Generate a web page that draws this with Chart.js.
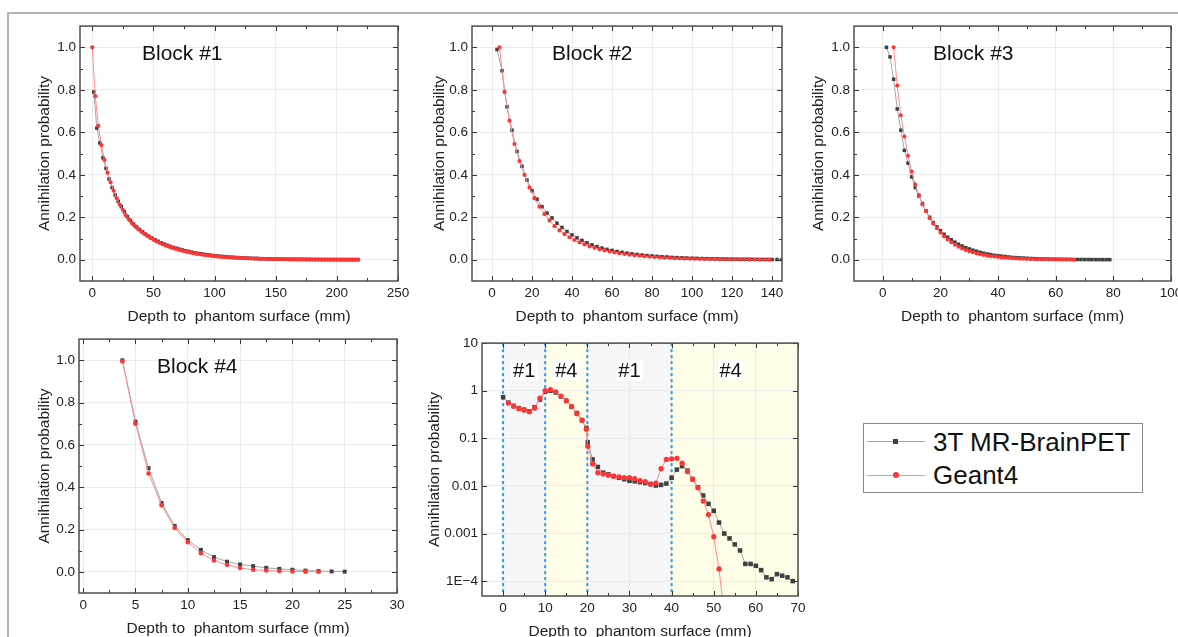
<!DOCTYPE html>
<html>
<head>
<meta charset="utf-8">
<title>Annihilation probability vs depth</title>
<script src="https://cdn.jsdelivr.net/npm/chart.js@4.4.1/dist/chart.umd.min.js"></script>
<style>
  html, body { margin: 0; padding: 0; background: #fff; width: 1178px; height: 637px; overflow: hidden; }
  body { position: relative; font-family: 'Liberation Sans', Arial, sans-serif; }
  .frame-top { position: absolute; left: 7px; top: 12px; right: 0; height: 2px; background: #b5b5b5; }
  .frame-left { position: absolute; left: 7px; top: 12px; bottom: 0; width: 2px; background: #b5b5b5; }
  canvas { position: absolute; }
  .legend { position: absolute; left: 863px; top: 423px; width: 278px; height: 68px; border: 1px solid #8a8a8a; background: #fff; }
  .legend .line { position: absolute; left: 3px; width: 58px; height: 1px; }
  .legend .mark { position: absolute; }
  .legend .text { position: absolute; left: 69px; font-size: 26px; line-height: 26px; color: #111; white-space: nowrap; }
</style>
</head>
<body>
<div class="frame-top"></div>
<div class="frame-left"></div>

<canvas id="block1Chart"></canvas>
<canvas id="block2Chart"></canvas>
<canvas id="block3Chart"></canvas>
<canvas id="block4Chart"></canvas>
<canvas id="profileChart"></canvas>

<div class="legend">
  <div class="line" style="top: 17px; background: #a5a5a5;"></div>
  <div class="mark" style="left: 29px; top: 15px; width: 5px; height: 5px; background: #404040;"></div>
  <div class="text" style="top: 5px;">3T MR-BrainPET</div>
  <div class="line" style="top: 51px; background: #ff8c8c;"></div>
  <div class="mark" style="left: 29px; top: 48px; width: 6px; height: 6px; border-radius: 50%; background: #ff3535;"></div>
  <div class="text" style="top: 38px;">Geant4</div>
</div>

<script>
// ---- Block #1 ----
const block1MeasDepth = [
  1.25, 3.75, 6.25, 8.75, 11.25, 13.75, 16.25, 18.75, 21.25, 23.75,
  26.25, 28.75, 31.25, 33.75, 36.25, 38.75, 41.25, 43.75, 46.25, 48.75,
  51.25, 53.75, 56.25, 58.75, 61.25, 63.75, 66.25, 68.75, 71.25, 73.75,
  76.25, 78.75, 81.25, 83.75, 86.25, 88.75, 91.25, 93.75, 96.25, 98.75,
  101.25, 103.75, 106.25, 108.75, 111.25, 113.75, 116.25, 118.75, 121.25, 123.75,
  126.25, 128.75, 131.25, 133.75, 136.25, 138.75, 141.25, 143.75, 146.25, 148.75,
  151.25, 153.75, 156.25, 158.75, 161.25, 163.75, 166.25, 168.75, 171.25, 173.75,
  176.25, 178.75, 181.25, 183.75, 186.25, 188.75, 191.25, 193.75, 196.25, 198.75,
  201.25, 203.75, 206.25, 208.75, 211.25, 213.75, 216.25
];
const block1Meas = [
  0.79, 0.62, 0.55, 0.48, 0.43, 0.38, 0.34, 0.305, 0.275, 0.25,
  0.225, 0.203, 0.185, 0.168, 0.154, 0.142, 0.131, 0.12, 0.111, 0.102,
  0.094, 0.087, 0.08, 0.074, 0.068, 0.063, 0.058, 0.054, 0.05, 0.046,
  0.042, 0.039, 0.036, 0.033, 0.03, 0.028, 0.026, 0.024, 0.022, 0.02,
  0.018, 0.017, 0.0155, 0.0143, 0.013, 0.012, 0.011, 0.010, 0.0092, 0.0085,
  0.0078, 0.0071, 0.0065, 0.006, 0.0055, 0.005, 0.0046, 0.0042, 0.0038, 0.0035,
  0.0032, 0.003, 0.0027, 0.0025, 0.0023, 0.0021, 0.002, 0.0018, 0.0017, 0.0016,
  0.0015, 0.0014, 0.0013, 0.0012, 0.0011, 0.001, 0.0009, 0.0009, 0.0008, 0.0008,
  0.0007, 0.0007, 0.0007, 0.0006, 0.0006, 0.0006, 0.0005
];
const block1SimDepth = [
  0, 2.5, 5, 7.5, 10, 12.5, 15, 17.5, 20, 22.5,
  25, 27.5, 30, 32.5, 35, 37.5, 40, 42.5, 45, 47.5,
  50, 52.5, 55, 57.5, 60, 62.5, 65, 67.5, 70, 72.5,
  75, 77.5, 80, 82.5, 85, 87.5, 90, 92.5, 95, 97.5,
  100, 102.5, 105, 107.5, 110, 112.5, 115, 117.5, 120, 122.5,
  125, 127.5, 130, 132.5, 135, 137.5, 140, 142.5, 145, 147.5,
  150, 152.5, 155, 157.5, 160, 162.5, 165, 167.5, 170, 172.5,
  175, 177.5, 180, 182.5, 185, 187.5, 190, 192.5, 195, 197.5,
  200, 202.5, 205, 207.5, 210, 212.5, 215, 217.5
];
const block1Sim = [
  1.0, 0.77, 0.63, 0.54, 0.47, 0.41, 0.365, 0.325, 0.29, 0.26,
  0.235, 0.21, 0.19, 0.172, 0.158, 0.145, 0.133, 0.122, 0.112, 0.103,
  0.095, 0.087, 0.080, 0.073, 0.067, 0.062, 0.057, 0.052, 0.048, 0.044,
  0.040, 0.037, 0.034, 0.031, 0.028, 0.026, 0.024, 0.022, 0.020, 0.018,
  0.017, 0.015, 0.014, 0.013, 0.012, 0.011, 0.010, 0.009, 0.0085, 0.0078,
  0.0072, 0.0066, 0.006, 0.0055, 0.005, 0.0046, 0.0042, 0.0039, 0.0036, 0.0033,
  0.003, 0.0028, 0.0026, 0.0024, 0.0022, 0.002, 0.0019, 0.0018, 0.0017, 0.0016,
  0.0015, 0.0014, 0.0013, 0.0012, 0.0011, 0.001, 0.001, 0.0009, 0.0009, 0.0008,
  0.0008, 0.0007, 0.0007, 0.0006, 0.0006, 0.0006, 0.0005, 0.0005
];
const block1Ticks = [0, 50, 100, 150, 200, 250];

// ---- Block #2 ----
const block2MeasDepth = [
  2.5, 5, 7.5, 10, 12.5, 15, 17.5, 20, 22.5, 25,
  27.5, 30, 32.5, 35, 37.5, 40, 42.5, 45, 47.5, 50,
  52.5, 55, 57.5, 60, 62.5, 65, 67.5, 70, 72.5, 75,
  77.5, 80, 82.5, 85, 87.5, 90, 92.5, 95, 97.5, 100,
  102.5, 105, 107.5, 110, 112.5, 115, 117.5, 120, 122.5, 125,
  127.5, 130, 132.5, 135, 137.5, 140, 142.5, 145
];
const block2Meas = [
  0.99, 0.89, 0.72, 0.61, 0.51, 0.44, 0.375, 0.325, 0.285, 0.25,
  0.22, 0.197, 0.172, 0.152, 0.133, 0.117, 0.103, 0.091, 0.08, 0.07,
  0.062, 0.055, 0.049, 0.044, 0.039, 0.035, 0.031, 0.028, 0.025, 0.022,
  0.02, 0.018, 0.016, 0.014, 0.013, 0.011, 0.010, 0.009, 0.008, 0.007,
  0.0063, 0.0057, 0.0051, 0.0046, 0.0041, 0.0037, 0.0033, 0.003, 0.0027, 0.0024,
  0.0022, 0.002, 0.0018, 0.0016, 0.0014, 0.0013, 0.0012, 0.0011
];
const block2SimDepth = [
  3.75, 6.25, 8.75, 11.25, 13.75, 16.25, 18.75, 21.25, 23.75, 26.25,
  28.75, 31.25, 33.75, 36.25, 38.75, 41.25, 43.75, 46.25, 48.75, 51.25,
  53.75, 56.25, 58.75, 61.25, 63.75, 66.25, 68.75, 71.25, 73.75, 76.25,
  78.75, 81.25, 83.75, 86.25, 88.75, 91.25, 93.75, 96.25, 98.75, 101.25,
  103.75, 106.25, 108.75, 111.25, 113.75, 116.25, 118.75, 121.25, 123.75, 126.25,
  128.75, 131.25, 133.75, 136.25, 138.75
];
const block2Sim = [
  1.0, 0.79, 0.655, 0.545, 0.465, 0.40, 0.34, 0.29, 0.25, 0.215,
  0.185, 0.158, 0.138, 0.121, 0.106, 0.093, 0.082, 0.072, 0.063, 0.056,
  0.05, 0.044, 0.039, 0.035, 0.031, 0.027, 0.024, 0.021, 0.019, 0.017,
  0.015, 0.013, 0.012, 0.010, 0.009, 0.008, 0.007, 0.0063, 0.0056, 0.005,
  0.0045, 0.004, 0.0036, 0.0032, 0.0029, 0.0026, 0.0023, 0.0021, 0.0019, 0.0017,
  0.0015, 0.0013, 0.0012, 0.0011, 0.001
];
const block2Ticks = [0, 20, 40, 60, 80, 100, 120, 140];

// ---- Block #3 ----
const block3MeasDepth = [
  1.25, 2.5, 3.75, 5, 6.25, 7.5, 8.75, 10, 11.25, 12.5,
  13.75, 15, 16.25, 17.5, 18.75, 20, 21.25, 22.5, 23.75, 25,
  26.25, 27.5, 28.75, 30, 31.25, 32.5, 33.75, 35, 36.25, 37.5,
  38.75, 40, 41.25, 42.5, 43.75, 45, 46.25, 47.5, 48.75, 50,
  51.25, 52.5, 53.75, 55, 56.25, 57.5, 58.75, 60, 61.25, 62.5,
  63.75, 65, 66.25, 67.5, 68.75, 70, 71.25, 72.5, 73.75, 75,
  76.25, 77.5, 78.75
];
const block3Meas = [
  1.0, 0.955, 0.85, 0.71, 0.61, 0.515, 0.455, 0.39, 0.34, 0.30,
  0.265, 0.23, 0.2, 0.175, 0.155, 0.137, 0.12, 0.106, 0.094, 0.083,
  0.073, 0.065, 0.057, 0.051, 0.045, 0.04, 0.035, 0.031, 0.027, 0.024,
  0.021, 0.019, 0.017, 0.015, 0.013, 0.011, 0.010, 0.009, 0.008, 0.007,
  0.006, 0.0053, 0.0047, 0.0042, 0.0037, 0.0033, 0.0029, 0.0026, 0.0023, 0.002,
  0.0018, 0.0016, 0.0014, 0.0012, 0.0011, 0.001, 0.0009, 0.0008, 0.0007, 0.0006,
  0.0005, 0.0005, 0.0004
];
const block3SimDepth = [
  3.75, 5, 6.25, 7.5, 8.75, 10, 11.25, 12.5, 13.75, 15,
  16.25, 17.5, 18.75, 20, 21.25, 22.5, 23.75, 25, 26.25, 27.5,
  28.75, 30, 31.25, 32.5, 33.75, 35, 36.25, 37.5, 38.75, 40,
  41.25, 42.5, 43.75, 45, 46.25, 47.5, 48.75, 50, 51.25, 52.5,
  53.75, 55, 56.25, 57.5, 58.75, 60, 61.25, 62.5, 63.75, 65,
  66.25
];
const block3Sim = [
  1.0, 0.82, 0.68, 0.58, 0.49, 0.415, 0.355, 0.305, 0.26, 0.228,
  0.195, 0.17, 0.148, 0.128, 0.11, 0.095, 0.082, 0.071, 0.061, 0.053,
  0.046, 0.04, 0.035, 0.03, 0.026, 0.022, 0.019, 0.017, 0.015, 0.013,
  0.011, 0.0095, 0.0082, 0.007, 0.006, 0.0052, 0.0045, 0.0039, 0.0034, 0.0029,
  0.0025, 0.0022, 0.0019, 0.0016, 0.0014, 0.0012, 0.001, 0.0009, 0.0008, 0.0007,
  0.0006
];
const block3Ticks = [0, 20, 40, 60, 80, 100];

// ---- Block #4 ----
const block4MeasDepth = [3.75, 5, 6.25, 7.5, 8.75, 10, 11.25, 12.5, 13.75, 15, 16.25, 17.5, 18.75, 20, 21.25, 22.5, 23.75, 25];
const block4Meas = [1.0, 0.71, 0.49, 0.325, 0.217, 0.15, 0.104, 0.07, 0.048, 0.035, 0.027, 0.019, 0.014, 0.01, 0.006, 0.004, 0.002, 0.001];
const block4SimDepth = [3.75, 5, 6.25, 7.5, 8.75, 10, 11.25, 12.5, 13.75, 15, 16.25, 17.5, 18.75, 20, 21.25, 22.5];
const block4Sim = [0.995, 0.70, 0.465, 0.315, 0.207, 0.14, 0.088, 0.054, 0.033, 0.018, 0.01, 0.006, 0.004, 0.002, 0.001, 0.0005];
const block4Ticks = [0, 5, 10, 15, 20, 25, 30];

// ---- Layered phantom profile (#1 / #4 / #1 / #4), log scale ----
const profileDepth = [
  0, 1.25, 2.5, 3.75, 5, 6.25, 7.5, 8.75, 10, 11.25,
  12.5, 13.75, 15, 16.25, 17.5, 18.75, 19.75, 20.1, 21.25, 22.5,
  23.75, 25, 26.25, 27.5, 28.75, 30, 31.25, 32.5, 33.75, 35,
  36.25, 37.5, 38.75, 40, 41.25, 42.5, 43.75, 45, 46.25, 47.5,
  48.75, 50, 51.25, 52.5, 53.75, 55, 56.25, 57.5, 58.75, 60,
  61.25, 62.5, 63.75, 65, 66.25, 67.5, 68.75
];
const profileMeas = [
  0.73, 0.56, 0.48, 0.43, 0.40, 0.37, 0.45, 0.65, 0.95, 1.0,
  0.92, 0.76, 0.61, 0.46, 0.34, 0.24, 0.165, 0.082, 0.036, 0.025,
  0.019, 0.0175, 0.016, 0.0148, 0.0138, 0.0128, 0.0125, 0.012, 0.0115, 0.011,
  0.0102, 0.0105, 0.0112, 0.0148, 0.022, 0.026, 0.021, 0.014, 0.0094, 0.0063,
  0.0042, 0.003, 0.0017, 0.001, 0.00079, 0.00059, 0.00044, 0.00023, 0.00023, 0.00021,
  0.00017, 0.00012, 0.00011, 0.00014, 0.00013, 0.00012, 0.0001
];
const profileSim = [
  null, 0.55, 0.47, 0.42, 0.39, 0.36, 0.43, 0.70, 1.0, 1.05,
  0.95, 0.77, 0.62, 0.47, 0.33, 0.24, 0.155, 0.068, 0.029, 0.019,
  0.0178, 0.0168, 0.016, 0.0155, 0.015, 0.015, 0.0142, 0.013, 0.0123, 0.0108,
  0.0115, 0.023, 0.036, 0.037, 0.038, 0.030, 0.020, 0.0137, 0.0091, 0.0048,
  0.0025, 0.00086, 0.00018, 0.00002, null, null, null, null, null, null,
  null, null, null, null, null, null, null
];
const profileTicks = [0, 10, 20, 30, 40, 50, 60, 70];
const layerBounds = [0, 10, 20, 40, 70];
const layerNames = ['#1', '#4', '#1', '#4'];
const layerLabelDepth = [5, 15, 30, 54];

const probabilityTicks = [0, 0.2, 0.4, 0.6, 0.8, 1.0];
const logProbabilityTicks = [1e-4, 1e-3, 1e-2, 0.1, 1, 10];
const logProbabilityLabels = ['1E\u22124', '0.001', '0.01', '0.1', '1', '10'];

const X_TITLE = 'Depth to  phantom surface (mm)';
const Y_TITLE = 'Annihilation probability';

// layout helpers
const FONT = "'Liberation Sans', Arial, sans-serif";
const AXIS_W = 60, AXIS_H = 50, PAD_TOP = 10, PAD_RIGHT = 16;

Chart.defaults.font.family = FONT;
Chart.defaults.color = '#222';

function placeCanvas(id, area) {
  const canvas = document.getElementById(id);
  canvas.width = AXIS_W + (area.right - area.left) + PAD_RIGHT;
  canvas.height = PAD_TOP + (area.bottom - area.top) + AXIS_H;
  canvas.style.left = (area.left - AXIS_W) + 'px';
  canvas.style.top = (area.top - PAD_TOP) + 'px';
  return canvas.getContext('2d');
}

function toPoints(depth, values) {
  return depth.map((x, i) => ({ x: x, y: values[i] }));
}

function measuredSeries(depth, values, size) {
  return {
    label: '3T MR-BrainPET',
    data: toPoints(depth, values),
    borderColor: '#a5a5a5',
    borderWidth: 1,
    pointStyle: 'rect',
    pointRadius: size,
    pointBackgroundColor: '#404040',
    pointBorderWidth: 0,
    order: 1
  };
}

function simulatedSeries(depth, values, size) {
  return {
    label: 'Geant4',
    data: toPoints(depth, values),
    borderColor: '#ff8c8c',
    borderWidth: 1,
    pointStyle: 'circle',
    pointRadius: size,
    pointBackgroundColor: '#ff3535',
    pointBorderWidth: 0,
    order: 0
  };
}

function minorValues(values, min, max) {
  const out = [];
  for (let i = 0; i < values.length - 1; i++) {
    out.push((values[i] + values[i + 1]) / 2);
  }
  return out.filter(v => v > min && v < max);
}

// Box around the plot area with inward ticks on all four sides
const framePlugin = {
  id: 'frame',
  afterDraw(chart, args, opts) {
    const { ctx, chartArea: a, scales: { x, y } } = chart;
    const xs = x.ticks.map(t => t.value);
    const ys = y.ticks.map(t => t.value);
    const xMinor = opts.minorX ? minorValues(xs, x.min, x.max) : [];
    const yMinor = opts.minorY ? minorValues(ys, y.min, y.max) : [];

    ctx.save();
    ctx.strokeStyle = '#333';
    ctx.lineWidth = 1;
    ctx.beginPath();
    const vTick = (v, len) => {
      const px = Math.round(x.getPixelForValue(v)) + 0.5;
      ctx.moveTo(px, a.bottom); ctx.lineTo(px, a.bottom - len);
      ctx.moveTo(px, a.top); ctx.lineTo(px, a.top + len);
    };
    const hTick = (v, len) => {
      const py = Math.round(y.getPixelForValue(v)) + 0.5;
      ctx.moveTo(a.left, py); ctx.lineTo(a.left + len, py);
      ctx.moveTo(a.right, py); ctx.lineTo(a.right - len, py);
    };
    xs.forEach(v => vTick(v, 5));
    xMinor.forEach(v => vTick(v, 3));
    ys.forEach(v => hTick(v, 5));
    yMinor.forEach(v => hTick(v, 3));
    ctx.stroke();

    ctx.strokeStyle = '#4d4d4d';
    ctx.lineWidth = 1.5;
    ctx.strokeRect(a.left, a.top, a.right - a.left, a.bottom - a.top);
    ctx.restore();
  }
};

// "Block #n" caption inside the plot area
const panelTitlePlugin = {
  id: 'panelTitle',
  afterDraw(chart, args, opts) {
    if (!opts.text) return;
    const { ctx, chartArea: a } = chart;
    ctx.save();
    ctx.font = '21px ' + FONT;
    ctx.fillStyle = '#111';
    ctx.textBaseline = 'middle';
    ctx.fillText(opts.text, a.left + opts.dx, a.top + opts.dy);
    ctx.restore();
  }
};

// Shaded phantom layers, dotted boundaries and layer names
const layerPlugin = {
  id: 'layers',
  beforeDraw(chart, args, opts) {
    const { ctx, chartArea: a, scales: { x } } = chart;
    ctx.save();
    for (let i = 0; i < layerBounds.length - 1; i++) {
      const x0 = x.getPixelForValue(layerBounds[i]);
      const x1 = x.getPixelForValue(layerBounds[i + 1]);
      ctx.fillStyle = opts.fills[i % opts.fills.length];
      ctx.fillRect(x0, a.top, x1 - x0, a.bottom - a.top);
    }
    ctx.restore();
  },
  beforeDatasetsDraw(chart, args, opts) {
    const { ctx, chartArea: a, scales: { x } } = chart;
    ctx.save();
    ctx.strokeStyle = '#22a0f5';
    ctx.lineWidth = 2;
    ctx.setLineDash([3, 3]);
    layerBounds.slice(0, -1).forEach(v => {
      const px = x.getPixelForValue(v);
      ctx.beginPath();
      ctx.moveTo(px, a.top);
      ctx.lineTo(px, a.bottom);
      ctx.stroke();
    });
    ctx.restore();
  },
  afterDraw(chart, args, opts) {
    const { ctx, scales: { x, y } } = chart;
    ctx.save();
    ctx.font = '20px ' + FONT;
    ctx.textAlign = 'center';
    ctx.textBaseline = 'middle';
    layerNames.forEach((name, i) => {
      const px = x.getPixelForValue(layerLabelDepth[i]);
      const py = y.getPixelForValue(opts.labelLevel);
      const w = ctx.measureText(name).width + 5;
      ctx.fillStyle = '#fff';
      ctx.fillRect(px - w / 2, py - 10.5, w, 21);
      ctx.fillStyle = '#111';
      ctx.fillText(name, px, py + 1);
    });
    ctx.restore();
  }
};

function xAxis(min, max, ticks) {
  return {
    type: 'linear',
    bounds: 'data',
    min: min,
    max: max,
    afterBuildTicks: scale => { scale.ticks = ticks.map(v => ({ value: v })); },
    afterFit: scale => { scale.height = AXIS_H; },
    grid: { color: '#ebebeb', drawTicks: false },
    border: { display: false },
    ticks: { padding: 4, autoSkip: false, maxRotation: 0, font: { size: 13.5 } },
    title: { display: true, text: X_TITLE, font: { size: 15.5 }, padding: { top: 0, bottom: 5 } }
  };
}

function yAxis(extra, titleGap) {
  return Object.assign({
    bounds: 'data',
    afterFit: scale => { scale.width = AXIS_W; },
    grid: { color: '#ebebeb', drawTicks: false },
    border: { display: false },
    ticks: { padding: 4, autoSkip: false, font: { size: 13.5 } },
    title: { display: true, text: Y_TITLE, font: { size: 15.5 }, padding: { top: titleGap, bottom: 0 } }
  }, extra);
}

function baseOptions(scales, pluginOpts) {
  return {
    responsive: false,
    animation: false,
    events: [],
    layout: { padding: { top: PAD_TOP, right: PAD_RIGHT, left: 0, bottom: 0 } },
    elements: { line: { tension: 0 } },
    plugins: Object.assign({ legend: { display: false }, tooltip: { enabled: false } }, pluginOpts),
    scales: scales
  };
}

/**
 * Linear decay panel for one block
 */
function buildBlockChart(id, area, cfg) {
  const ctx = placeCanvas(id, area);
  const yTicks = probabilityTicks;
  return new Chart(ctx, {
    type: 'line',
    data: {
      datasets: [
        measuredSeries(cfg.measDepth, cfg.meas, cfg.squareSize),
        simulatedSeries(cfg.simDepth, cfg.sim, cfg.dotSize)
      ]
    },
    options: baseOptions({
      x: xAxis(cfg.xMin, cfg.xMax, cfg.xTicks),
      y: yAxis({
        type: 'linear',
        min: -0.1,
        max: 1.1,
        afterBuildTicks: scale => { scale.ticks = yTicks.map(v => ({ value: v })); },
        ticks: { padding: 4, autoSkip: false, font: { size: 13.5 }, callback: v => v.toFixed(1) }
      }, cfg.titleGap)
    }, {
      frame: { minorX: true, minorY: true },
      panelTitle: { text: cfg.title, dx: cfg.titleDx, dy: 28 }
    }),
    plugins: [framePlugin, panelTitlePlugin]
  });
}

/**
 * Log-scale depth profile through the layered phantom
 */
function buildProfileChart(id, area) {
  const ctx = placeCanvas(id, area);
  return new Chart(ctx, {
    type: 'line',
    data: {
      datasets: [
        measuredSeries(profileDepth, profileMeas, 3.2),
        simulatedSeries(profileDepth, profileSim, 2.6)
      ]
    },
    options: baseOptions({
      x: xAxis(-5, 70, profileTicks),
      y: yAxis({
        type: 'logarithmic',
        min: 4.87e-5,
        max: 10,
        afterBuildTicks: scale => { scale.ticks = logProbabilityTicks.map(v => ({ value: v })); },
        ticks: { padding: 4, autoSkip: false, font: { size: 13.5 }, callback: (v, i) => logProbabilityLabels[i] }
      }, 3)
    }, {
      frame: { minorX: true, minorY: false },
      layers: { fills: ['#f6f6f8', '#fdfde8'], labelLevel: 2.7 }
    }),
    plugins: [layerPlugin, framePlugin]
  });
}

document.addEventListener('DOMContentLoaded', function() {
  buildBlockChart('block1Chart', { left: 80, top: 24, right: 398, bottom: 281 }, {
    title: 'Block #1', titleDx: 62, titleGap: 15.7,
    measDepth: block1MeasDepth, meas: block1Meas, simDepth: block1SimDepth, sim: block1Sim,
    xMin: -10, xMax: 250, xTicks: block1Ticks, squareSize: 2.5, dotSize: 2.1
  });
  buildBlockChart('block2Chart', { left: 472, top: 24, right: 782, bottom: 281 }, {
    title: 'Block #2', titleDx: 80, titleGap: 18.3,
    measDepth: block2MeasDepth, meas: block2Meas, simDepth: block2SimDepth, sim: block2Sim,
    xMin: -10, xMax: 145, xTicks: block2Ticks, squareSize: 2.5, dotSize: 2.1
  });
  buildBlockChart('block3Chart', { left: 854, top: 24, right: 1171, bottom: 281 }, {
    title: 'Block #3', titleDx: 79, titleGap: 15.7,
    measDepth: block3MeasDepth, meas: block3Meas, simDepth: block3SimDepth, sim: block3Sim,
    xMin: -10, xMax: 100, xTicks: block3Ticks, squareSize: 2.5, dotSize: 2
  });
  buildBlockChart('block4Chart', { left: 79, top: 337, right: 397, bottom: 593 }, {
    title: 'Block #4', titleDx: 78, titleGap: 16,
    measDepth: block4MeasDepth, meas: block4Meas, simDepth: block4SimDepth, sim: block4Sim,
    xMin: -0.4, xMax: 30, xTicks: block4Ticks, squareSize: 2.8, dotSize: 2.3
  });
  buildProfileChart('profileChart', { left: 482, top: 341, right: 798, bottom: 596 });
});
</script>
</body>
</html>
